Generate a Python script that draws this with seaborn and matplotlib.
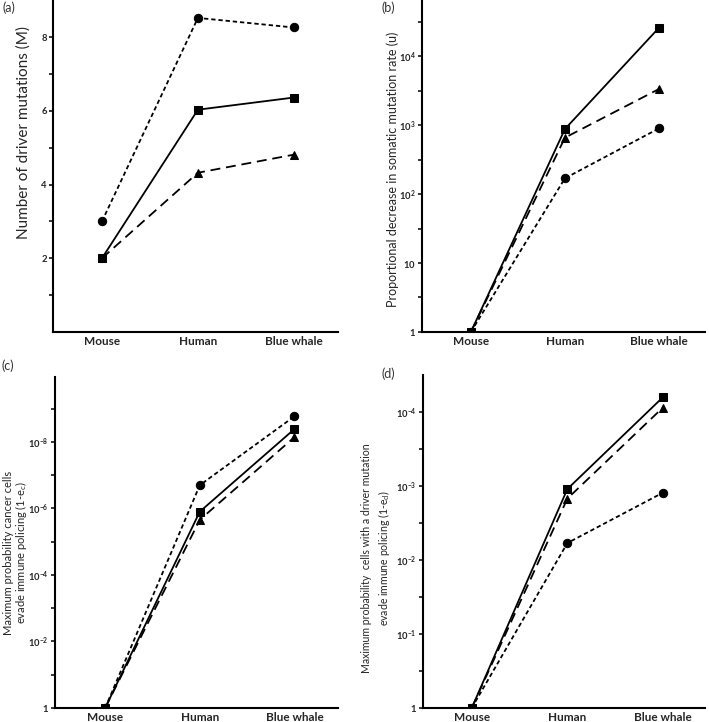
import numpy as np
import pandas as pd
import matplotlib
matplotlib.use("Agg")
import matplotlib.pyplot as plt
import seaborn as sns
from matplotlib.ticker import FixedLocator, FixedFormatter, NullFormatter

# -- data -----------------------------------------------------------------
species = ["Mouse", "Human", "Blue whale"]

# (a) number of driver mutations
a_circle = [3.0, 8.52, 8.26]
a_square = [2.0, 6.03, 6.36]
a_triangle = [2.0, 4.32, 4.81]

# (b) proportional decrease in somatic mutation rate
b_circle = [1.0, 169, 895]
b_square = [1.0, 875, 25700]
b_triangle = [1.0, 656, 3330]

# (c) max probability cancer cells evade immune policing
c_circle = [1.0, 2.0e-7, 1.7e-9]
c_square = [1.0, 1.25e-6, 4.1e-9]
c_triangle = [1.0, 2.2e-6, 7.2e-9]

# (d) max probability driver-mutation cells evade immune policing
d_circle = [1.0, 5.9e-3, 1.23e-3]
d_square = [1.0, 1.1e-3, 6.3e-5]
d_triangle = [1.0, 1.48e-3, 8.7e-5]

sns.set_style("white")
plt.rcParams["font.family"] = ["Lato", "DejaVu Sans"]
plt.rcParams["mathtext.fontset"] = "custom"
plt.rcParams["mathtext.rm"] = "Lato"
plt.rcParams["mathtext.bf"] = "Lato:bold"
plt.rcParams["mathtext.it"] = "Lato:italic"


def long_df(circle, square, triangle):
    frames = []
    for name, vals in (("circle", circle), ("square", square), ("triangle", triangle)):
        frames.append(pd.DataFrame({"species": species, "value": vals, "series": name}))
    return pd.concat(frames, ignore_index=True)


markers = {"circle": "o", "square": "s", "triangle": "^"}
dashes = {"circle": (2.4, 1.6), "square": "", "triangle": (5.5, 3.2)}


def draw(ax, df):
    sns.lineplot(
        data=df, x="species", y="value", style="series",
        markers=markers, dashes=dashes, color="black",
        linewidth=1.3, markersize=6, markeredgecolor="black",
        sort=False, legend=False, ax=ax,
    )
    for spine in ("top", "right"):
        ax.spines[spine].set_visible(False)
    for spine in ("left", "bottom"):
        ax.spines[spine].set_linewidth(1.5)
        ax.spines[spine].set_color("black")
    ax.tick_params(axis="y", which="both", direction="out", length=3,
                   width=1.1, color="black", left=True, labelsize=6.8, pad=1.5)
    ax.tick_params(axis="x", length=0, labelsize=8.5, pad=3)
    for lab in ax.get_xticklabels() + ax.get_yticklabels():
        lab.set_fontweight("bold")
    ax.set_xlabel("")


def sup(e):
    return r"$\mathbf{10^{%d}}$" % e


fig = plt.figure(figsize=(7.09, 7.22), dpi=100)
ax_a = fig.add_axes([0.0748, 0.5402, 0.4019, 0.4595])
ax_b = fig.add_axes([0.5952, 0.5402, 0.3992, 0.4595])
ax_c = fig.add_axes([0.0776, 0.0194, 0.3991, 0.4584])
ax_d = fig.add_axes([0.5966, 0.0194, 0.3978, 0.4612])

# (a)
draw(ax_a, long_df(a_circle, a_square, a_triangle))
ax_a.set_ylim(0, 9)
ax_a.set_xlim(-0.51, 2.46)
ax_a.yaxis.set_major_locator(FixedLocator([2, 4, 6, 8]))
ax_a.yaxis.set_minor_locator(FixedLocator([1, 3, 5, 7]))
ax_a.set_ylabel("Number of driver mutations (M)", fontsize=11)
ax_a.yaxis.set_label_coords(-0.08, 0.6)

# (b)
draw(ax_b, long_df(b_circle, b_square, b_triangle))
ax_b.set_yscale("log")
ax_b.set_ylim(1, 10 ** 4.81)
ax_b.set_xlim(-0.52, 2.49)
ax_b.yaxis.set_major_locator(FixedLocator([1, 10, 1e2, 1e3, 1e4]))
ax_b.yaxis.set_major_formatter(FixedFormatter([r"$\mathbf{1}$", r"$\mathbf{10}$", sup(2), sup(3), sup(4)]))
ax_b.yaxis.set_minor_locator(FixedLocator([10 ** (k + 0.5) for k in range(5)]))
ax_b.yaxis.set_minor_formatter(NullFormatter())
ax_b.set_ylabel("Proportional decrease in somatic mutation rate (u)", fontsize=9)
ax_b.yaxis.set_label_coords(-0.081, 0.49)

# (c)
draw(ax_c, long_df(c_circle, c_square, c_triangle))
ax_c.set_yscale("log")
ax_c.set_ylim(1, 10 ** -9.95)
ax_c.set_xlim(-0.53, 2.46)
ax_c.yaxis.set_major_locator(FixedLocator([1, 1e-2, 1e-4, 1e-6, 1e-8]))
ax_c.yaxis.set_major_formatter(FixedFormatter([r"$\mathbf{1}$", sup(-2), sup(-4), sup(-6), sup(-8)]))
ax_c.yaxis.set_minor_locator(FixedLocator([10.0 ** -k for k in (1, 3, 5, 7, 9)]))
ax_c.yaxis.set_minor_formatter(NullFormatter())
ax_c.set_ylabel("Maximum probability cancer cells\nevade immune policing (1-e$_\\mathrm{c}$)",
                fontsize=8.0, linespacing=0.95)
ax_c.yaxis.set_label_coords(-0.092, 0.47)

# (d)
draw(ax_d, long_df(d_circle, d_square, d_triangle))
ax_d.set_yscale("log")
ax_d.set_ylim(1, 10 ** -4.5)
ax_d.set_xlim(-0.51, 2.44)
ax_d.yaxis.set_major_locator(FixedLocator([1, 1e-1, 1e-2, 1e-3, 1e-4]))
ax_d.yaxis.set_major_formatter(FixedFormatter([r"$\mathbf{1}$", sup(-1), sup(-2), sup(-3), sup(-4)]))
ax_d.yaxis.set_minor_locator(FixedLocator([10 ** -(k + 0.5) for k in range(4)]))
ax_d.yaxis.set_minor_formatter(NullFormatter())
ax_d.set_ylabel("Maximum probability  cells with a driver mutation\nevade immune policing (1-e$_\\mathrm{d}$)",
                fontsize=7.6, linespacing=1.35)
ax_d.yaxis.set_label_coords(-0.11, 0.45)

# panel letters
for x, y, letter in ((9, 8, "(a)"), (388, 8, "(b)"), (8, 366, "(c)"), (388, 374, "(d)")):
    fig.text(x / 709, 1 - y / 722, letter, ha="center", va="center",
             fontsize=9, color="#333333")

fig.savefig("out.png", dpi=100)
